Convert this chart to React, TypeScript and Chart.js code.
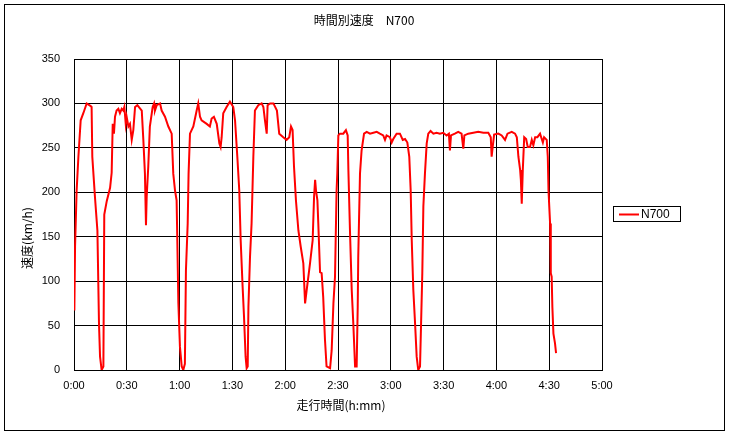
import React, { useEffect, useRef } from 'react';
import { Chart, registerables } from 'chart.js';

Chart.register(...registerables);

const chartTitle = '時間別速度　N700';
const xAxisTitle = '走行時間(h:mm)';
const yAxisTitle = '速度(km/h)';
const seriesName = 'N700';

const xTickLabels = ['0:00', '0:30', '1:00', '1:30', '2:00', '2:30', '3:00', '3:30', '4:00', '4:30', '5:00'];

// elapsed time in minutes
const times = [
  0.2, 0.6, 1.5, 2.5, 3.8, 5.3, 7.2, 9.5, 10.0, 10.4, 11.9, 13.3, 14.2, 14.8, 15.7, 16.7,
  17.2, 18.6, 20.5, 21.4, 22.0, 22.7, 23.3, 24.2, 25.2, 26.1, 27.1, 28.0, 28.6, 29.4, 29.9,
  30.9, 31.8, 32.8, 33.7, 34.7, 36.0, 38.5, 39.4, 40.3, 40.9, 41.3, 42.2, 43.1, 44.7, 45.5,
  46.0, 47.0, 48.9, 49.8, 51.7, 53.6, 55.5, 56.4, 57.4, 58.3, 58.7, 59.3, 60.2, 61.2, 62.1,
  63.0, 63.6, 64.6, 65.1, 65.9, 67.8, 69.7, 70.6, 71.6, 72.5, 75.4, 77.2, 78.2, 79.5, 81.1,
  82.6, 83.3, 83.9, 84.8, 86.7, 88.6, 90.5, 91.5, 92.8, 93.9, 94.7, 95.8, 96.6, 97.5, 98.1,
  98.7, 99.1, 100.0, 100.9, 101.9, 102.8, 104.7, 106.6, 107.6, 108.5, 109.5, 110.0, 111.4,
  113.3, 115.3, 116.6, 118.9, 120.8, 122.3, 123.3, 124.2, 125.0, 126.1, 127.5, 128.8, 130.3,
  131.3, 132.2, 134.1, 135.6, 136.4, 137.0, 137.5, 138.3, 138.8, 139.8, 140.7, 141.6, 142.6,
  143.5, 145.5, 146.4, 147.4, 148.3, 149.2, 149.6, 150.2, 151.1, 153.0, 154.5, 155.5, 155.9,
  156.8, 157.8, 158.7, 159.7, 160.6, 161.2, 161.5, 162.5, 163.4, 164.8, 166.3, 168.2, 170.1,
  172.0, 173.8, 175.7, 176.7, 177.6, 179.5, 180.5, 181.4, 183.3, 185.2, 186.8, 188.1, 189.4,
  190.5, 191.3, 191.9, 192.8, 193.8, 194.7, 195.6, 196.6, 197.2, 197.9, 198.5, 199.4, 200.4,
  201.3, 202.6, 204.2, 206.0, 207.9, 209.8, 211.7, 213.0, 213.6, 214.2, 216.4, 218.3, 220.2,
  221.2, 221.8, 224.0, 226.9, 229.7, 232.6, 235.4, 236.8, 237.3, 237.9, 238.7, 241.1, 243.0,
  244.9, 246.3, 248.7, 250.6, 251.6, 252.5, 253.5, 253.9, 254.4, 255.0, 255.8, 256.9, 257.8,
  259.1, 260.1, 261.0, 262.0, 263.3, 264.8, 266.4, 267.1, 268.6, 269.2, 269.6, 270.5, 270.9,
  271.4, 271.8, 272.4, 273.3, 273.9,
];

// speed in km/h
const speeds = [
  67, 139, 202, 240, 281, 289, 300, 297, 296, 240, 195, 157, 52, 15, 0, 4,
  175, 190, 205, 222, 277, 266, 285, 292, 294, 289, 294, 292, 296, 277, 285,
  274, 277, 259, 270, 296, 298, 292, 259, 221, 163, 195, 229, 274, 296, 300,
  292, 298, 300, 292, 285, 274, 266, 221, 202, 191, 146, 75, 26, 4, 0,
  7, 112, 165, 221, 266, 274, 292, 300, 285, 281, 277, 274, 283, 285, 277,
  255, 251, 262, 289, 296, 302, 296, 281, 240, 202, 146, 94, 60, 15, 2,
  4, 71, 127, 165, 240, 292, 298, 300, 296, 281, 266, 298, 300,
  300, 292, 266, 262, 259, 262, 274, 270, 229, 191, 157, 139, 120,
  75, 90, 120, 146, 195, 214, 202, 191, 165, 110, 109, 82, 34,
  4, 2, 22, 75, 105, 202, 221, 264, 266, 266, 270, 264, 225,
  157, 90, 52, 4, 4, 71, 127, 221, 247, 266, 268, 266, 267,
  268, 266, 264, 259, 264, 262, 256, 260, 266, 266, 259, 260, 256,
  240, 202, 146, 90, 52, 15, 0, 4, 52, 109, 184, 221, 255,
  266, 269, 266, 267, 266, 267, 264, 266, 247, 264, 266, 268, 266,
  249, 264, 266, 267, 268, 267, 267, 262, 240, 251, 265, 266, 264,
  259, 266, 268, 266, 262, 240, 225, 214, 187, 225, 262, 260, 251,
  251, 259, 253, 262, 262, 266, 256, 262, 259, 240, 202, 165, 109,
  105, 71, 41, 30, 19,
];

const jpFont = '"Noto Sans CJK JP", "Noto Sans", sans-serif';
const numFont = '"Liberation Sans", Arial, sans-serif';

const decorPlugin = {
  id: 'decor',
  beforeDraw(chart: any) {
    const ctx = chart.ctx;
    ctx.save();
    ctx.fillStyle = '#ffffff';
    ctx.fillRect(0, 0, chart.width, chart.height);
    ctx.restore();
  },
  afterDraw(chart: any) {
    const ctx = chart.ctx;
    const ca = chart.chartArea;
    ctx.save();
    // outer frame
    ctx.strokeStyle = '#000000';
    ctx.lineWidth = 1;
    ctx.strokeRect(4.5, 4.5, 720, 426);
    // chart title
    ctx.fillStyle = '#000000';
    ctx.font = '12px ' + jpFont;
    ctx.textAlign = 'center';
    ctx.textBaseline = 'middle';
    ctx.fillText(chartTitle, 364, 20);
    // x axis title
    ctx.fillText(xAxisTitle, (ca.left + ca.right) / 2 + 3, 405);
    // y axis title
    ctx.save();
    ctx.translate(27, 238);
    ctx.rotate(-Math.PI / 2);
    ctx.fillText(yAxisTitle, 0, 0);
    ctx.restore();
    // legend
    const lx = 613.5, ly = 206.5, lw = 67, lh = 15;
    ctx.fillStyle = '#ffffff';
    ctx.fillRect(lx, ly, lw, lh);
    ctx.strokeStyle = '#000000';
    ctx.strokeRect(lx, ly, lw, lh);
    ctx.strokeStyle = '#ff0000';
    ctx.lineWidth = 2;
    ctx.beginPath();
    ctx.moveTo(619, 214.5);
    ctx.lineTo(639, 214.5);
    ctx.stroke();
    ctx.fillStyle = '#000000';
    ctx.font = '12px ' + numFont;
    ctx.textAlign = 'left';
    ctx.fillText(seriesName, 641, 214.5);
    ctx.restore();
  },
};

export default function App() {
  const canvasRef = useRef<HTMLCanvasElement | null>(null);

  useEffect(() => {
    const canvas = canvasRef.current;
    if (!canvas) return;
    const points = times.map((t, i) => ({ x: t, y: speeds[i] }));
    const chart = new Chart(canvas, {
      type: 'line',
      data: {
        datasets: [
          {
            label: seriesName,
            data: points,
            borderColor: '#ff0000',
            backgroundColor: '#ff0000',
            borderWidth: 2,
            pointRadius: 0,
            tension: 0,
            fill: false,
          },
        ],
      },
      options: {
        animation: false,
        responsive: false,
        maintainAspectRatio: false,
        layout: { padding: { left: 0, top: 59, right: 128, bottom: 0 } },
        plugins: {
          legend: { display: false },
          title: { display: false },
          tooltip: { enabled: false },
        },
        scales: {
          x: {
            type: 'linear',
            min: 0,
            max: 300,
            afterFit: (scale: any) => {
              scale.height = 66;
            },
            afterBuildTicks: (scale: any) => {
              scale.ticks = xTickLabels.map((_, i) => ({ value: i * 30 }));
            },
            ticks: {
              autoSkip: false,
              maxRotation: 0,
              padding: 9,
              color: '#000000',
              font: { family: numFont, size: 11 },
              callback: (_v: any, i: number) => xTickLabels[i],
            },
            grid: { color: '#000000', lineWidth: 1, drawTicks: false },
            border: { display: true, color: '#000000', width: 1 },
          },
          y: {
            min: 0,
            max: 350,
            afterFit: (scale: any) => {
              scale.width = 74;
            },
            ticks: {
              stepSize: 50,
              padding: 14,
              color: '#000000',
              font: { family: numFont, size: 11 },
            },
            grid: { color: '#000000', lineWidth: 1, drawTicks: false },
            border: { display: true, color: '#000000', width: 1 },
          },
        },
      },
      plugins: [decorPlugin],
    });
    return () => chart.destroy();
  }, []);

  return (
    <div style={{ position: 'absolute', left: 0, top: 0, width: 730, height: 436, background: '#ffffff' }}>
      <canvas ref={canvasRef} width={730} height={436} style={{ display: 'block' }} />
    </div>
  );
}
